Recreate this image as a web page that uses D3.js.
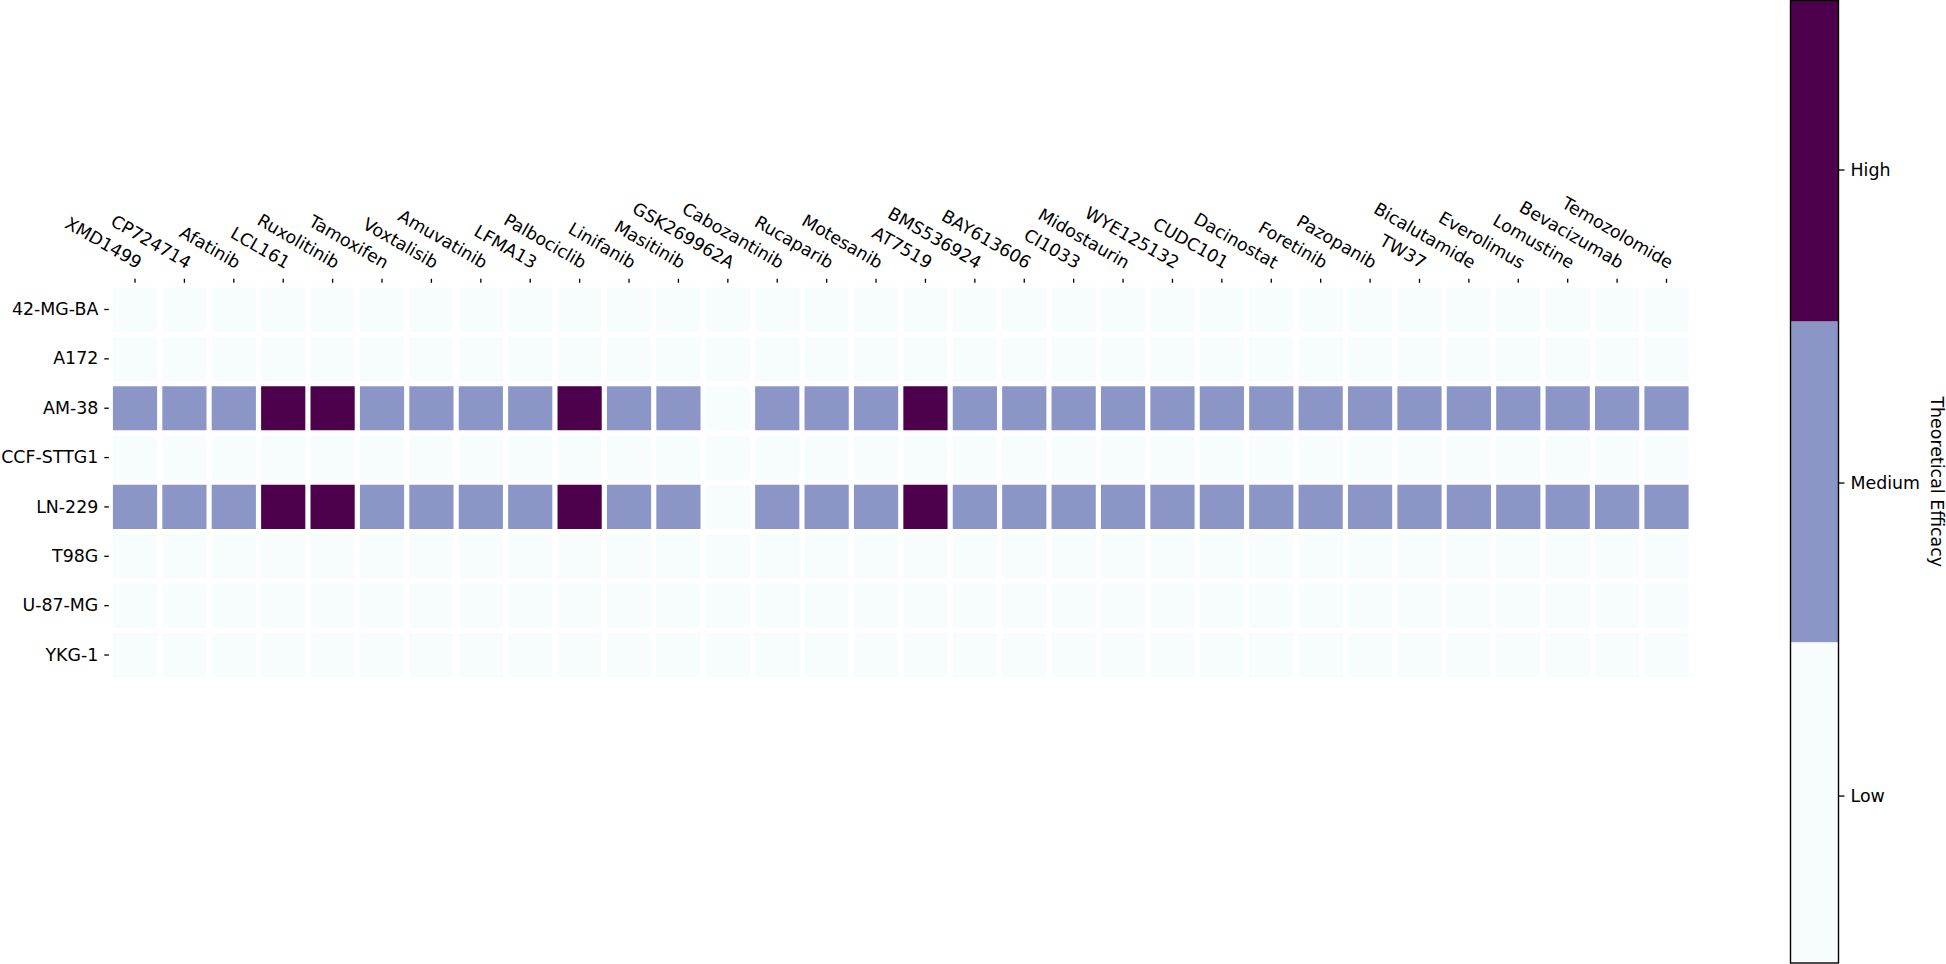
<!DOCTYPE html>
<html>
<head>
<meta charset="utf-8">
<script src="https://cdn.jsdelivr.net/npm/d3@7"></script>
<style>
    body { margin: 0; background: #fff; }
    text { font-family: "DejaVu Sans", sans-serif; }
</style>
</head>
<body>
<div id="chart"></div>
<script>
// drugs along the top
const drugs = ["XMD1499", "CP724714", "Afatinib", "LCL161", "Ruxolitinib", "Tamoxifen", "Voxtalisib",
    "Amuvatinib", "LFMA13", "Palbociclib", "Linifanib", "Masitinib", "GSK269962A", "Cabozantinib",
    "Rucaparib", "Motesanib", "AT7519", "BMS536924", "BAY613606", "CI1033", "Midostaurin", "WYE125132",
    "CUDC101", "Dacinostat", "Foretinib", "Pazopanib", "TW37", "Bicalutamide", "Everolimus", "Lomustine",
    "Bevacizumab", "Temozolomide"];

// cell lines down the side
const cellLines = ["42-MG-BA", "A172", "AM-38", "CCF-STTG1", "LN-229", "T98G", "U-87-MG", "YKG-1"];

// efficacy per cell line (0 = Low, 1 = Medium, 2 = High)
const row42MGBA  = [0,0,0,0,0,0,0,0,0,0,0,0,0,0,0,0,0,0,0,0,0,0,0,0,0,0,0,0,0,0,0,0];
const rowA172    = [0,0,0,0,0,0,0,0,0,0,0,0,0,0,0,0,0,0,0,0,0,0,0,0,0,0,0,0,0,0,0,0];
const rowAM38    = [1,1,1,2,2,1,1,1,1,2,1,1,0,1,1,1,2,1,1,1,1,1,1,1,1,1,1,1,1,1,1,1];
const rowCCF     = [0,0,0,0,0,0,0,0,0,0,0,0,0,0,0,0,0,0,0,0,0,0,0,0,0,0,0,0,0,0,0,0];
const rowLN229   = [1,1,1,2,2,1,1,1,1,2,1,1,0,1,1,1,2,1,1,1,1,1,1,1,1,1,1,1,1,1,1,1];
const rowT98G    = [0,0,0,0,0,0,0,0,0,0,0,0,0,0,0,0,0,0,0,0,0,0,0,0,0,0,0,0,0,0,0,0];
const rowU87MG   = [0,0,0,0,0,0,0,0,0,0,0,0,0,0,0,0,0,0,0,0,0,0,0,0,0,0,0,0,0,0,0,0];
const rowYKG1    = [0,0,0,0,0,0,0,0,0,0,0,0,0,0,0,0,0,0,0,0,0,0,0,0,0,0,0,0,0,0,0,0];

// colorbar
const levelNames = ["Low", "Medium", "High"];
const levelValues = [0, 1, 2];
const levelColors = ["#f7fcfd", "#8c96c6", "#4d004b"];
const cbarBounds = [-0.535, 0.49, 1.515, 2.54];
const cbarLabel = "Theoretical Efficacy";

class heatMap {
    constructor(parentElement, rows) {
        this.parentElement = parentElement;
        this.rows = rows;
        this.initVis();
    }

    initVis() {
        let vis = this;

        vis.width = 1946;
        vis.height = 964;

        // plot area (cells)
        vis.area = { left: 110.3, right: 1691.2, top: 284.8, bottom: 679.7 };

        vis.svg = d3.select("#" + vis.parentElement).append("svg")
            .attr("width", vis.width)
            .attr("height", vis.height)
            .style("display", "block");

        vis.x = d3.scaleBand()
            .domain(drugs)
            .range([vis.area.left, vis.area.right]);

        vis.y = d3.scaleBand()
            .domain(cellLines)
            .range([vis.area.top, vis.area.bottom]);

        vis.color = d3.scaleThreshold()
            .domain(cbarBounds.slice(1, -1))
            .range(levelColors);

        vis.wrangleData();
    }

    wrangleData() {
        let vis = this;

        vis.cells = [];
        vis.rows.forEach(function (row, i) {
            row.forEach(function (v, j) {
                vis.cells.push({ line: cellLines[i], drug: drugs[j], value: v });
            });
        });

        vis.updateVis();
    }

    updateVis() {
        let vis = this;

        // cells
        vis.svg.selectAll("rect.cell")
            .data(vis.cells)
            .enter()
            .append("rect")
            .attr("class", "cell")
            .attr("x", d => vis.x(d.drug))
            .attr("y", d => vis.y(d.line))
            .attr("width", vis.x.bandwidth())
            .attr("height", vis.y.bandwidth())
            .attr("fill", d => vis.color(d.value));

        // white grid between cells
        let xEdges = d3.range(drugs.length + 1).map(i => vis.area.left + i * vis.x.step());
        let yEdges = d3.range(cellLines.length + 1).map(i => vis.area.top + i * vis.y.step());

        vis.svg.selectAll("line.vgrid")
            .data(xEdges)
            .enter()
            .append("line")
            .attr("x1", d => d).attr("x2", d => d)
            .attr("y1", vis.area.top).attr("y2", vis.area.bottom)
            .attr("stroke", "#fff")
            .attr("stroke-width", 5.2);

        vis.svg.selectAll("line.hgrid")
            .data(yEdges)
            .enter()
            .append("line")
            .attr("x1", vis.area.left).attr("x2", vis.area.right)
            .attr("y1", d => d).attr("y2", d => d)
            .attr("stroke", "#fff")
            .attr("stroke-width", 5.2);

        // left axis
        let yAxis = vis.svg.append("g")
            .attr("transform", "translate(" + (vis.area.left - 1.5) + ",0)")
            .call(d3.axisLeft(vis.y).tickSize(4.5).tickPadding(6));
        yAxis.select(".domain").remove();
        yAxis.selectAll("line").attr("stroke", "#000").attr("stroke-width", 1.3);
        yAxis.selectAll("text")
            .attr("font-size", "17.4px")
            .attr("font-family", "DejaVu Sans")
            .attr("fill", "#000");

        // top axis, rotated labels
        let xAxis = vis.svg.append("g")
            .attr("transform", "translate(0," + (vis.area.top - 2) + ")")
            .call(d3.axisTop(vis.x).tickSize(4));
        xAxis.select(".domain").remove();
        xAxis.selectAll("line").attr("stroke", "#000").attr("stroke-width", 1.3);
        xAxis.selectAll("text")
            .attr("x", 0)
            .attr("y", 0)
            .attr("dy", "-0.24em")
            .attr("transform", "translate(0,-10) rotate(30)")
            .style("text-anchor", "end")
            .attr("font-size", "17.4px")
            .attr("font-family", "DejaVu Sans")
            .attr("fill", "#000");

        // colorbar
        let cb = { left: 1790.5, right: 1838.5, top: 0.5, bottom: 963 };
        vis.cy = d3.scaleLinear()
            .domain([cbarBounds[0], cbarBounds[cbarBounds.length - 1]])
            .range([cb.bottom, cb.top]);

        let segs = d3.range(levelColors.length).map(i => ({ lo: cbarBounds[i], hi: cbarBounds[i + 1], c: levelColors[i] }));
        vis.svg.selectAll("rect.seg")
            .data(segs)
            .enter()
            .append("rect")
            .attr("x", cb.left)
            .attr("width", cb.right - cb.left)
            .attr("y", d => vis.cy(d.hi))
            .attr("height", d => vis.cy(d.lo) - vis.cy(d.hi))
            .attr("fill", d => d.c);

        vis.svg.append("rect")
            .attr("x", cb.left)
            .attr("y", cb.top)
            .attr("width", cb.right - cb.left)
            .attr("height", cb.bottom - cb.top)
            .attr("fill", "none")
            .attr("stroke", "#000")
            .attr("stroke-width", 1.4);

        let cAxis = vis.svg.append("g")
            .attr("transform", "translate(" + cb.right + ",0)")
            .call(d3.axisRight(vis.cy)
                .tickValues(levelValues)
                .tickFormat((d, i) => levelNames[i])
                .tickSize(6)
                .tickPadding(6));
        cAxis.select(".domain").remove();
        cAxis.selectAll("line").attr("stroke", "#000").attr("stroke-width", 1.3);
        cAxis.selectAll("text")
            .attr("font-size", "17.4px")
            .attr("font-family", "DejaVu Sans")
            .attr("fill", "#000");

        vis.svg.append("text")
            .attr("transform", "translate(1930.5," + ((cb.top + cb.bottom) / 2) + ") rotate(90)")
            .attr("text-anchor", "middle")
            .attr("font-size", "17.4px")
            .attr("fill", "#000")
            .text(cbarLabel);
    }
}

let chart = new heatMap("chart", [row42MGBA, rowA172, rowAM38, rowCCF, rowLN229, rowT98G, rowU87MG, rowYKG1]);
</script>
</body>
</html>
